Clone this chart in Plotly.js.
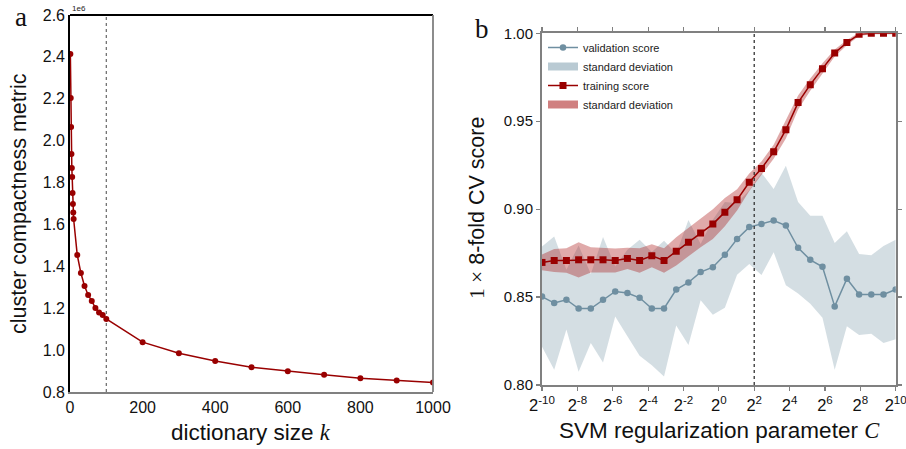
<!DOCTYPE html>
<html>
<head>
<meta charset="utf-8">
<script src="https://cdn.plot.ly/plotly-3.0.1.min.js"></script>
<style>
  html, body { margin: 0; padding: 0; background: #ffffff; }
  #chart { width: 906px; height: 449px; }
</style>
</head>
<body>
<div id="chart"></div>
<script>
// ---------- Panel a: dictionary size vs cluster compactness (values in 1e6) ----------
const dictSizes = [1, 2, 3, 4, 5, 6, 7, 8, 9, 10,
                   20, 30, 40, 50, 60, 70, 80, 90, 100,
                   200, 300, 400, 500, 600, 700, 800, 900, 1000];
const compactness = [2.414, 2.204, 2.065, 1.936, 1.870, 1.827, 1.750, 1.698, 1.657, 1.626,
                     1.454, 1.368, 1.306, 1.263, 1.235, 1.201, 1.180, 1.168, 1.149,
                     1.038, 0.985, 0.948, 0.918, 0.899, 0.882, 0.866, 0.855, 0.845];
const chosenK = 100;
const kTicks = [0, 200, 400, 600, 800, 1000];

// ---------- Panel b: SVM regularization parameter C (log2 grid) ----------
const cExponents = [-10, -9.31, -8.62, -7.93, -7.24, -6.55, -5.86, -5.17, -4.48, -3.79,
                    -3.10, -2.41, -1.72, -1.03, -0.34, 0.34, 1.03, 1.72, 2.41, 3.10,
                    3.79, 4.48, 5.17, 5.86, 6.55, 7.24, 7.93, 8.62, 9.31, 10];
const validationScore = [0.8503, 0.8466, 0.8485, 0.8435, 0.8435, 0.8485, 0.8532, 0.8523, 0.8496, 0.8435,
                         0.8435, 0.8543, 0.8583, 0.8642, 0.8670, 0.8740, 0.8830, 0.8898, 0.8916, 0.8935,
                         0.8907, 0.8780, 0.8712, 0.8672, 0.8447, 0.8604, 0.8515, 0.8515, 0.8515, 0.8543];
const validationStd = [0.0285, 0.0379, 0.0170, 0.0359, 0.0196, 0.0357, 0.0142, 0.0246, 0.0330, 0.0322,
                       0.0386, 0.0205, 0.0355, 0.0160, 0.0270, 0.0300, 0.0203, 0.0210, 0.0290, 0.0180,
                       0.0340, 0.0260, 0.0250, 0.0290, 0.0360, 0.0270, 0.0230, 0.0223, 0.0276, 0.0283];
const trainingScore = [0.8697, 0.8708, 0.8708, 0.8712, 0.8712, 0.8712, 0.8708, 0.8720, 0.8708, 0.8735,
                       0.8708, 0.8760, 0.8812, 0.8864, 0.8915, 0.8983, 0.9053, 0.9153, 0.9231, 0.9326,
                       0.9452, 0.9606, 0.9708, 0.9799, 0.9888, 0.9947, 0.9994, 1.0000, 1.0000, 1.0000];
const trainingStd = [0.0045, 0.0065, 0.0070, 0.0100, 0.0072, 0.0070, 0.0068, 0.0060, 0.0070, 0.0066,
                     0.0070, 0.0080, 0.0080, 0.0080, 0.0085, 0.0080, 0.0060, 0.0050, 0.0040, 0.0040,
                     0.0050, 0.0040, 0.0035, 0.0030, 0.0020, 0.0015, 0.0010, 0.0005, 0.0005, 0.0005];
const chosenCExp = 2;
const cTickExps = [-10, -8, -6, -4, -2, 0, 2, 4, 6, 8, 10];
const cTickLabels = ['2<sup>-10</sup>', '2<sup>-8</sup>', '2<sup>-6</sup>', '2<sup>-4</sup>', '2<sup>-2</sup>',
                     '2<sup>0</sup>', '2<sup>2</sup>', '2<sup>4</sup>', '2<sup>6</sup>', '2<sup>8</sup>', '2<sup>10</sup>'];
const legendLabels = ['validation score', 'standard deviation', 'training score', 'standard deviation'];

// ---------- styles ----------
const RED = '#990000';
const BLUE = '#6f8fa1';
const SANS = 'Liberation Sans, Arial, sans-serif';
const SERIF = 'Liberation Serif, Times New Roman, serif';

const cValues = cExponents.map(e => Math.pow(2, e));
const band = (x, m, s) => ({
  x: x.concat(x.slice().reverse()),
  y: m.map((v, i) => v + s[i]).concat(m.map((v, i) => v - s[i]).reverse())
});
const vBand = band(cValues, validationScore, validationStd);
const tBand = band(cValues, trainingScore, trainingStd);

const traces = [
  // panel a
  { x: [chosenK, chosenK], y: [0.8, 2.6], xaxis: 'x', yaxis: 'y', mode: 'lines',
    line: { color: '#666666', width: 1.2, dash: '3px,3px' }, showlegend: false, hoverinfo: 'skip' },
  { x: dictSizes, y: compactness, xaxis: 'x', yaxis: 'y', mode: 'lines+markers',
    line: { color: RED, width: 1.5 }, marker: { color: RED, size: 6, symbol: 'circle' },
    showlegend: false },
  // panel b
  { x: vBand.x, y: vBand.y, xaxis: 'x2', yaxis: 'y2', mode: 'lines', fill: 'toself',
    fillcolor: 'rgba(112,146,163,0.30)', line: { width: 0, color: 'rgba(0,0,0,0)' },
    showlegend: false, hoverinfo: 'skip' },
  { x: cValues, y: validationScore, xaxis: 'x2', yaxis: 'y2', mode: 'lines+markers',
    name: legendLabels[0], legendrank: 1,
    line: { color: BLUE, width: 1.5 }, marker: { color: BLUE, size: 6.5, symbol: 'circle' } },
  { x: tBand.x, y: tBand.y, xaxis: 'x2', yaxis: 'y2', mode: 'lines', fill: 'toself',
    fillcolor: 'rgba(170,20,20,0.36)', line: { width: 0, color: 'rgba(0,0,0,0)' },
    showlegend: false, hoverinfo: 'skip' },
  { x: cValues, y: trainingScore, xaxis: 'x2', yaxis: 'y2', mode: 'lines+markers',
    name: legendLabels[2], legendrank: 3,
    line: { color: RED, width: 1.5 }, marker: { color: RED, size: 7, symbol: 'square' } },
  { x: [Math.pow(2, chosenCExp), Math.pow(2, chosenCExp)], y: [0.8, 1.0], xaxis: 'x2', yaxis: 'y2',
    mode: 'lines', line: { color: '#333333', width: 1.3, dash: '3px,3px' },
    showlegend: false, hoverinfo: 'skip' },
  // legend-only swatches for the std bands
  { x: [null], y: [null], xaxis: 'x2', yaxis: 'y2', mode: 'lines', name: legendLabels[1], legendrank: 2,
    line: { color: '#b9cad3', width: 8 } },
  { x: [null], y: [null], xaxis: 'x2', yaxis: 'y2', mode: 'lines', name: legendLabels[3], legendrank: 4,
    line: { color: '#d08080', width: 8 } }
];

const W = 906, H = 449;
const px = v => v / W;
const py = v => 1 - v / H;

const layout = {
  width: W, height: H,
  margin: { l: 0, r: 0, t: 0, b: 0 },
  paper_bgcolor: '#ffffff', plot_bgcolor: '#ffffff',
  font: { family: SANS, color: '#111111' },
  showlegend: true,
  legend: {
    x: px(543), y: py(33), xanchor: 'left', yanchor: 'top',
    bgcolor: 'rgba(0,0,0,0)', borderwidth: 0,
    font: { family: SANS, size: 11, color: '#222222' },
    tracegroupgap: 0, itemwidth: 30
  },
  xaxis: {
    domain: [px(70), px(433)], range: [0, 1000], anchor: 'y',
    tickvals: kTicks, ticks: '', showgrid: false, zeroline: false,
    showline: true, linecolor: '#808080', linewidth: 1.8,
    ticklabeloverflow: 'allow',
    tickfont: { family: SANS, size: 16, color: '#111111' }
  },
  yaxis: {
    domain: [py(392), py(15)], range: [0.8, 2.6], anchor: 'x',
    dtick: 0.2, tick0: 0.8, tickformat: '.1f', ticks: '', showgrid: false, zeroline: false,
    showline: true, linecolor: '#000000', linewidth: 1.8,
    ticklabeloverflow: 'allow',
    tickfont: { family: SANS, size: 16, color: '#111111' }
  },
  xaxis2: {
    domain: [px(542), px(895.7)], type: 'log', range: [-10 * Math.log10(2), 10 * Math.log10(2)],
    anchor: 'y2', tickvals: cTickExps.map(e => Math.pow(2, e)), ticktext: cTickLabels,
    ticks: 'outside', ticklen: 4, tickwidth: 1.2, tickcolor: '#808080', mirror: 'ticks',
    showgrid: false, zeroline: false, showline: true, linecolor: '#808080', linewidth: 2,
    ticklabeloverflow: 'allow',
    tickfont: { family: SANS, size: 16.5, color: '#111111' }
  },
  yaxis2: {
    domain: [py(385), py(33.3)], range: [0.8, 1.0], anchor: 'x2',
    dtick: 0.05, tick0: 0.8, tickformat: '.2f',
    ticks: 'outside', ticklen: 4, tickwidth: 1.2, tickcolor: '#808080', mirror: 'ticks',
    showgrid: false, zeroline: false, showline: true, linecolor: '#808080', linewidth: 2,
    ticklabeloverflow: 'allow',
    tickfont: { family: SANS, size: 15, color: '#111111' }
  },
  shapes: [
    { type: 'line', xref: 'x domain', yref: 'y domain', x0: 0, x1: 1, y0: 1, y1: 1,
      line: { color: '#000000', width: 1.8 } },
    { type: 'line', xref: 'x domain', yref: 'y domain', x0: 1, x1: 1, y0: 0, y1: 1,
      line: { color: '#808080', width: 1.8 } }
  ],
  annotations: [
    { text: 'a', x: px(21), y: py(17.5), xref: 'paper', yref: 'paper', xanchor: 'center', yanchor: 'middle',
      showarrow: false, font: { family: SERIF, size: 27, color: '#111111' } },
    { text: 'b', x: px(482), y: py(29), xref: 'paper', yref: 'paper', xanchor: 'center', yanchor: 'middle',
      showarrow: false, font: { family: SERIF, size: 27, color: '#111111' } },
    { text: '1e6', x: px(70), y: py(15), xref: 'paper', yref: 'paper', xanchor: 'left', yanchor: 'bottom',
      showarrow: false, font: { family: SANS, size: 8, color: '#222222' } },
    { text: 'cluster compactness metric', x: px(19), y: py(204), xref: 'paper', yref: 'paper',
      xanchor: 'center', yanchor: 'middle', textangle: -90, showarrow: false,
      font: { family: SANS, size: 21.5, color: '#111111' } },
    { text: 'dictionary size <span style="font-family:Liberation Serif"><i>k</i></span>',
      x: px(251), y: py(432), xref: 'paper', yref: 'paper', xanchor: 'center', yanchor: 'middle',
      showarrow: false, font: { family: SANS, size: 22.5, color: '#111111' } },
    { text: '<span style="font-family:Liberation Serif">1 ×</span> 8-fold CV score',
      x: px(477), y: py(208), xref: 'paper', yref: 'paper', xanchor: 'center', yanchor: 'middle',
      textangle: -90, showarrow: false, font: { family: SANS, size: 21.5, color: '#111111' } },
    { text: 'SVM regularization parameter <span style="font-family:Liberation Serif"><i>C</i></span>',
      x: px(719), y: py(430), xref: 'paper', yref: 'paper', xanchor: 'center', yanchor: 'middle',
      showarrow: false, font: { family: SANS, size: 22.5, color: '#111111' } }
  ]
};

Plotly.newPlot('chart', traces, layout, { staticPlot: true, displayModeBar: false });
</script>
</body>
</html>
